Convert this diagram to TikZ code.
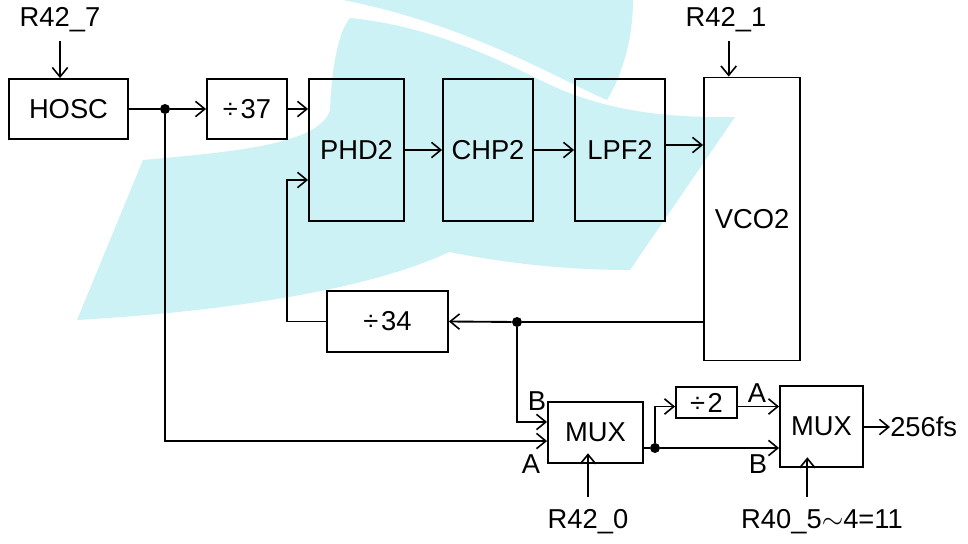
\documentclass[tikz,border=0pt]{standalone}
\usepackage{fontspec}
\setmainfont{Liberation Sans}
\usepackage{tikz}
\usetikzlibrary{arrows.meta,positioning}
\usepackage{xcolor}
\definecolor{wmark}{RGB}{204,242,246}

\begin{document}
\begin{tikzpicture}[
    x=0.75pt, y=-0.75pt,
    box/.style={rectangle, draw=black, line width=1.4pt, inner sep=0pt,
                align=center, font=\fontsize{20.5}{24}\selectfont},
    txt/.style={inner sep=1pt, font=\fontsize{20.5}{24}\selectfont},
    arr/.style={-{Straight Barb[length=7pt,width=11.5pt,line width=1.2pt]}, line width=1.4pt},
    wire/.style={line width=1.4pt},
    dot/.style={circle, fill=black, inner sep=0pt, minimum size=7.5pt}
]
\useasboundingbox (0,0) rectangle (968,543);

% --- watermark in the background ---
\fill[wmark] (343,0) -- (633,0) .. controls (633,40) and (622,75) .. (607,100)
    .. controls (560,80) and (470,25) .. (343,0) -- cycle;
\fill[wmark] (350,18) .. controls (420,25) and (480,50) .. (540,80)
    .. controls (600,110) and (660,118) .. (735,117) -- (630,270)
    .. controls (560,270) and (500,262) .. (449,252)
    .. controls (380,285) and (250,310) .. (77,320) -- (143,160)
    .. controls (230,152) and (320,145) .. (330,110)
    .. controls (332,60) and (340,30) .. (350,18) -- cycle;

% --- Row 1: oscillator and PLL blocks ---
\node[box, minimum width=89.25pt, minimum height=45pt] (hosc) at (68.5,109) {HOSC};
\node[box, minimum width=60pt, minimum height=45pt] (div37) at (247,109) {÷\kern2pt37};
\node[box, minimum width=71.25pt, minimum height=106.5pt] (phd) at (356.5,150) {PHD2};
\node[box, minimum width=67.5pt, minimum height=106.5pt] (chp) at (488,150) {CHP2};
\node[box, minimum width=67.5pt, minimum height=106.5pt] (lpf) at (620,150) {LPF2};
\node[box, minimum width=72pt, minimum height=212.25pt] (vco) at (752,219) {VCO2};

% --- Row 2: feedback divider ---
\node[box, minimum width=90.75pt, minimum height=45.75pt] (div34) at (387.5,321.5) {÷\kern2pt34};

% --- Row 3: output selection ---
\node[box, minimum width=71.25pt, minimum height=45.75pt] (mux1) at (595.5,432.5) {MUX};
\node[box, minimum width=45.75pt, minimum height=23.25pt] (div2) at (706.5,402.5) {÷\kern2pt2};
\node[box, minimum width=62.25pt, minimum height=60.75pt] (mux2) at (821.5,426.5) {MUX};

% control and output labels
\node[txt] (r427) at (60,20) {R42\_7};
\node[txt] (r421) at (726,20) {R42\_1};
\node[txt] (r420) at (588,522) {R42\_0};
\node[txt] (r40) at (822,522) {R40\_5$\sim$4=11};
\node[txt, anchor=west, inner sep=0pt] (out) at (890,427) {256fs};
\node[txt] (ba) at (537,401) {B};
\node[txt] (aa) at (531,464) {A};
\node[txt] (bb) at (757,393) {A};
\node[txt] (ab) at (758,464) {B};

% junctions
\node[dot] (j1) at (165,109) {};
\node[dot] (j2) at (517,322) {};
\node[dot] (j3) at (655,448) {};

% arrows
\draw[arr] ([yshift=-5pt]r427.south) -- (r427.south |- hosc.north);
\draw[arr] ([xshift=2pt,yshift=-5pt]r421.south) -- ([xshift=2pt]r421.south |- vco.north);
\draw[wire] (hosc) -- (j1);
\draw[arr] (j1) -- (div37);
\draw[arr] (div37) -- (div37 -| phd.west);
\draw[arr] (phd) -- (chp);
\draw[arr] (chp) -- (lpf);
\draw[arr] ([yshift=3.75pt]lpf.east) -- ([yshift=3.75pt]lpf.east -| vco.west);
\draw[wire] (vco.west |- j2) -- (j2);
\draw[arr] (j2) -- (div34.east);
\draw[arr] (div34.west) -- ++(-39,0) |- ([yshift=-22.5pt]phd.west);
\draw[arr] (j2) |- ([yshift=7.9pt]mux1.west);
\draw[arr] (j1) |- ([yshift=-6.4pt]mux1.west);
\draw[wire] (j3 -| mux1.east) -- (j3);
\draw[arr] (j3) |- ([yshift=-3pt]div2.west);
\draw[arr] ([yshift=-3pt]div2.east) -- ([yshift=-3pt]div2.east -| mux2.west);
\draw[arr] (j3) -- (j3 -| mux2.west);
\draw[arr] (mux2.east |- out) -- (out.west);
\draw[arr] ([yshift=8pt]r420.north) -- ([yshift=8pt]r420.north |- mux1.south);
\draw[arr] ([xshift=-11pt,yshift=8pt]r40.north) -- ([xshift=-11pt,yshift=8pt]r40.north |- mux2.south);

\end{tikzpicture}
\end{document}
